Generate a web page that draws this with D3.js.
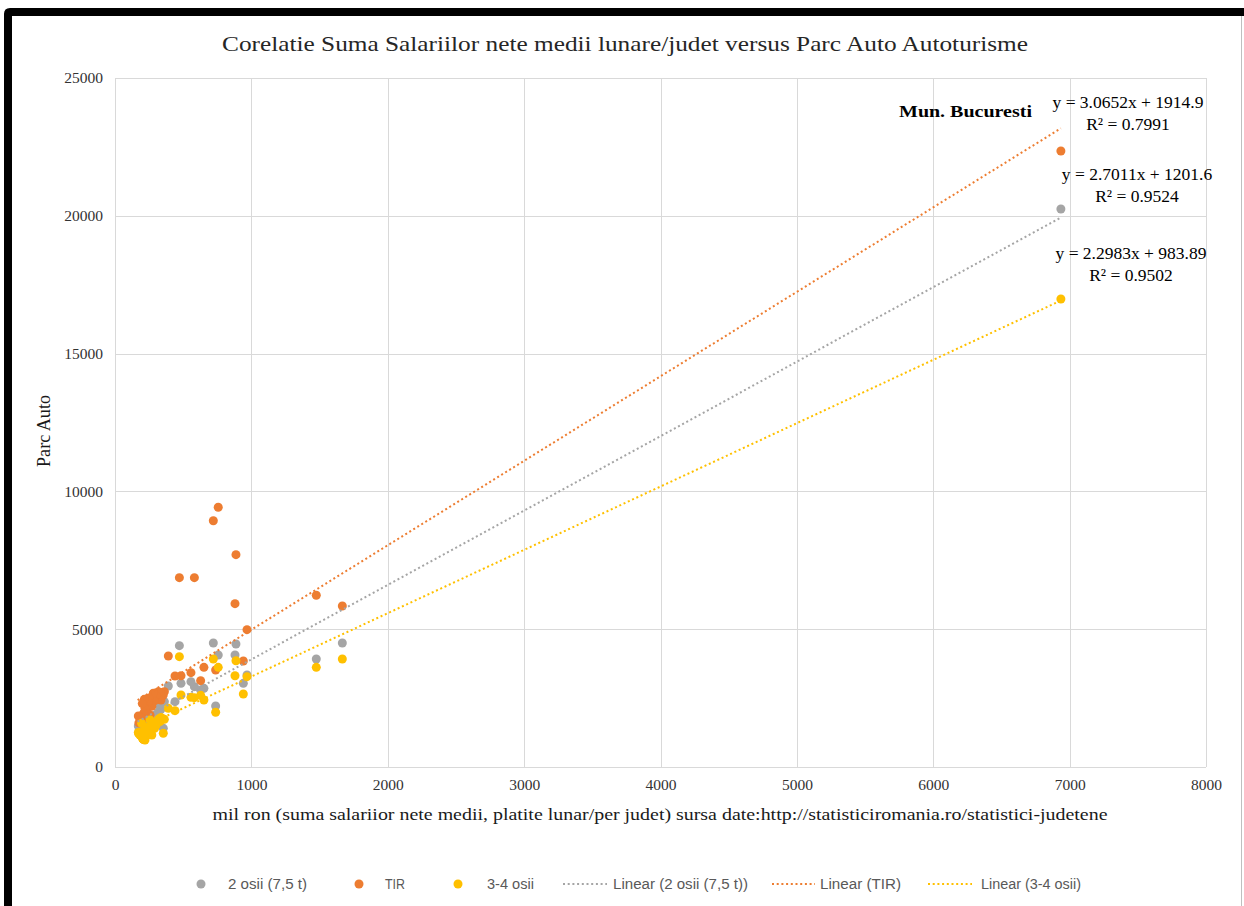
<!DOCTYPE html>
<html>
<head>
<meta charset="utf-8">
<script src="https://cdn.jsdelivr.net/npm/d3@7/dist/d3.min.js"></script>
<style>
  html, body { margin: 0; padding: 0; background: #ffffff; }
  svg { display: block; }
</style>
</head>
<body>
<svg id="chart" width="1244" height="906"></svg>
<script>
// ---------------- DATA ----------------
const title = "Corelatie Suma Salariilor nete medii lunare/judet versus Parc Auto Autoturisme";
const xAxisTitle = "mil ron (suma salariior nete medii, platite lunar/per judet) sursa date:http://statisticiromania.ro/statistici-judetene";
const yAxisTitle = "Parc Auto";
const xTicks = [0, 1000, 2000, 3000, 4000, 5000, 6000, 7000, 8000];
const yTicks = [0, 5000, 10000, 15000, 20000, 25000];
const seriesNames = ["2 osii (7,5 t)", "TIR", "3-4 osii"];
const trendNames = ["Linear (2 osii (7,5 t))", "Linear (TIR)", "Linear (3-4 osii)"];

// salary sum per county (mil ron)
const salary = [6936, 1667, 1476, 968, 941, 887, 880, 757, 721, 738,
                652, 628, 582, 557, 472, 484, 440, 391, 362, 354,
                337, 330, 318, 300, 290, 281, 270, 257, 250, 244,
                235, 225, 220, 215, 210, 208, 200, 195, 190, 183, 175, 171];
const osii2 = [20247, 4499, 3919, 3338, 3036, 4463, 4064, 4064, 4499, 2213,
               2855, 2794, 2914, 3096, 4402, 3036, 2370, 2939, 2370, 1404,
               2092, 2200, 2000, 1900, 1750, 1850, 1700, 1650, 2310, 1600,
               1800, 1500, 1550, 1700, 1400, 1300, 1450, 1550, 1350, 1488, 1250, 1488];
const tir = [22351, 5842, 6230, 4983, 3846, 7704, 5926, 9423, 8937, 3520,
             3617, 3133, 6870, 3422, 6870, 3313, 3302, 4027, 2733, 2613,
             2431, 2700, 2733, 2600, 2400, 2674, 2200, 1887, 2500, 2350,
             2100, 2000, 2129, 2456, 1950, 1000, 2300, 1700, 1650, 1826, 1600, 1850];
const osii34 = [16981, 3919, 3617, 3277, 2649, 3857, 3313, 3617, 3919, 1985,
                2431, 2600, 2515, 2527, 4003, 2613, 2044, 2129, 1730, 1223,
                1800, 1650, 1730, 1500, 1400, 1600, 1161, 1705, 1300, 1450,
                1200, 1250, 980, 1350, 1100, 1000, 1050, 1584, 1150, 1161, 1200, 1250];

// trendline coefficients as shown on the chart
const slopes = [2.7011, 3.0652, 2.2983];
const intercepts = [1201.6, 1914.9, 983.89];
const eqLabels = ["y = 2.7011x + 1201.6", "y = 3.0652x + 1914.9", "y = 2.2983x + 983.89"];
const r2Labels = ["R² = 0.9524", "R² = 0.7991", "R² = 0.9502"];
const pointLabel = "Mun. Bucuresti";

// ---------------- STYLE ----------------
const colors = ["#A5A5A5", "#ED7D31", "#FFC000"];
const serif = "'Liberation Serif', 'Times New Roman', serif";
const sans = "'Liberation Sans Narrow', 'Liberation Sans', Arial, sans-serif";

const svg = d3.select("#chart");

// frame (screenshot border)
svg.append("rect").attr("x", 0).attr("y", 0).attr("width", 1244).attr("height", 906).attr("fill", "#fff");
svg.append("path")
  .attr("d", "M4,906 L4,14 Q4,8 10,8 L1244,8 L1244,16 L12,16 L12,906 Z")
  .attr("fill", "#000");
svg.append("line").attr("x1", 1241.5).attr("x2", 1241.5).attr("y1", 16).attr("y2", 906)
  .attr("stroke", "#bfbfbf").attr("stroke-width", 1);

const x = d3.scaleLinear().domain([0, 8000]).range([115, 1206]);
const y = d3.scaleLinear().domain([0, 25000]).range([767, 78]);

// gridlines
const grid = svg.append("g");
grid.selectAll("line.v").data(xTicks).enter().append("line")
  .attr("x1", d => Math.round(x(d)) + 0.5).attr("x2", d => Math.round(x(d)) + 0.5)
  .attr("y1", y(25000)).attr("y2", y(0))
  .attr("stroke", "#d9d9d9").attr("stroke-width", 1);
grid.selectAll("line.h").data(yTicks).enter().append("line")
  .attr("x1", x(0)).attr("x2", x(8000))
  .attr("y1", d => Math.round(y(d)) + 0.5).attr("y2", d => Math.round(y(d)) + 0.5)
  .attr("stroke", "#d9d9d9").attr("stroke-width", 1);

// axes (labels only)
const xAxis = d3.axisBottom(x).tickValues(xTicks).tickSize(0).tickPadding(12).tickFormat(d3.format("d"));
const gx = svg.append("g").attr("transform", `translate(0,${y(0)})`).call(xAxis);
gx.select(".domain").remove();
gx.selectAll("text").attr("font-family", serif).attr("font-size", 15.5).attr("fill", "#333");

const yAxis = d3.axisLeft(y).tickValues(yTicks).tickSize(0).tickPadding(12).tickFormat(d3.format("d"));
const gy = svg.append("g").attr("transform", `translate(${x(0)},0)`).call(yAxis);
gy.select(".domain").remove();
gy.selectAll("text").attr("font-family", serif).attr("font-size", 15.5).attr("fill", "#333");

// points
const seriesData = [osii2, tir, osii34];
seriesData.forEach((vals, si) => {
  svg.append("g").selectAll("circle")
    .data(vals.map((v, i) => [salary[i], v]))
    .enter().append("circle")
    .attr("cx", d => x(d[0])).attr("cy", d => y(d[1]))
    .attr("r", 4.5).attr("fill", colors[si]);
});

// trendlines
const xMin = d3.min(salary) - 5, xMax = d3.max(salary);
seriesData.forEach((vals, si) => {
  const line = d3.line().x(d => x(d)).y(d => y(slopes[si] * d + intercepts[si]));
  svg.append("path").datum([xMin, xMax]).attr("d", line)
    .attr("fill", "none").attr("stroke", colors[si]).attr("stroke-width", 2)
    .attr("stroke-dasharray", "2,2.7");
});

// title
svg.append("text").attr("x", 625).attr("y", 51).attr("text-anchor", "middle")
  .attr("font-family", serif).attr("font-size", 21).attr("fill", "#262626")
  .attr("textLength", 806).attr("lengthAdjust", "spacingAndGlyphs").text(title);

// axis titles
svg.append("text").attr("x", 660).attr("y", 820).attr("text-anchor", "middle")
  .attr("font-family", serif).attr("font-size", 17).attr("fill", "#1a1a1a")
  .attr("textLength", 895).attr("lengthAdjust", "spacingAndGlyphs").text(xAxisTitle);
svg.append("text").attr("transform", "translate(50,431) rotate(-90)").attr("text-anchor", "middle")
  .attr("font-family", serif).attr("font-size", 18).attr("fill", "#1a1a1a")
  .attr("textLength", 72).attr("lengthAdjust", "spacingAndGlyphs").text(yAxisTitle);

// Bucuresti label
svg.append("text").attr("x", 1032).attr("y", 117).attr("text-anchor", "end")
  .attr("font-family", serif).attr("font-size", 17).attr("font-weight", "bold").attr("fill", "#000")
  .attr("textLength", 133).attr("lengthAdjust", "spacingAndGlyphs").text(pointLabel);

// equations
const eqPos = [[1137, 180, 202], [1128, 108, 130], [1131, 259, 281]];
eqLabels.forEach((t, i) => {
  svg.append("text").attr("x", eqPos[i][0]).attr("y", eqPos[i][1]).attr("text-anchor", "middle")
    .attr("font-family", serif).attr("font-size", 17.5).attr("fill", "#000").text(t);
  svg.append("text").attr("x", eqPos[i][0]).attr("y", eqPos[i][2]).attr("text-anchor", "middle")
    .attr("font-family", serif).attr("font-size", 17.5).attr("fill", "#000").text(r2Labels[i]);
});

// legend
const ly = 884;
const legendMarkers = [201, 359, 458];
const legendMarkerText = [[228, 79], [385, 20], [487, 47]];
seriesNames.forEach((n, i) => {
  svg.append("circle").attr("cx", legendMarkers[i]).attr("cy", ly).attr("r", 4.5).attr("fill", colors[i]);
  svg.append("text").attr("x", legendMarkerText[i][0]).attr("y", ly + 5)
    .attr("font-family", sans).attr("font-size", 14).attr("fill", "#595959")
    .attr("textLength", legendMarkerText[i][1]).attr("lengthAdjust", "spacingAndGlyphs").text(n);
});
const legendLines = [[563, 607], [772, 815], [928, 972]];
const legendLineText = [[613, 135], [820, 81], [981, 100]];
trendNames.forEach((n, i) => {
  svg.append("line").attr("x1", legendLines[i][0]).attr("x2", legendLines[i][1])
    .attr("y1", ly).attr("y2", ly).attr("stroke", colors[i]).attr("stroke-width", 2)
    .attr("stroke-dasharray", "2,2.7");
  svg.append("text").attr("x", legendLineText[i][0]).attr("y", ly + 5)
    .attr("font-family", sans).attr("font-size", 14).attr("fill", "#595959")
    .attr("textLength", legendLineText[i][1]).attr("lengthAdjust", "spacingAndGlyphs").text(n);
});
</script>
</body>
</html>
